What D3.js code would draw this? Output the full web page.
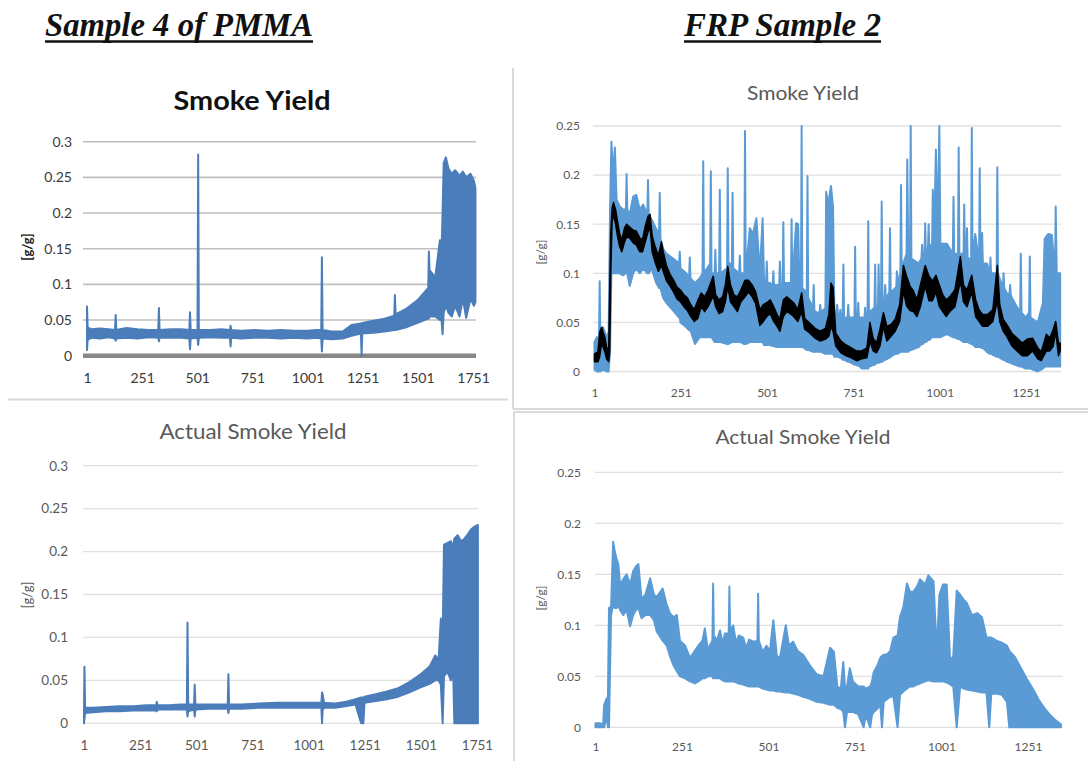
<!DOCTYPE html>
<html><head><meta charset="utf-8">
<script src="https://cdn.jsdelivr.net/npm/d3@7"></script>
<style>body{margin:0;background:#fff}svg{display:block}</style>
</head><body>
<svg id="c" width="1088" height="761"></svg>
<script>
// ---------------- DATA ----------------
const xTicksPMMA = [1, 251, 501, 751, 1001, 1251, 1501, 1751];
const xTicksFRP = [1, 251, 501, 751, 1001, 1251];
const yTicksPMMA = [0, 0.05, 0.1, 0.15, 0.2, 0.25, 0.3];
const yLabelsPMMA = ["0", "0.05", "0.1", "0.15", "0.2", "0.25", "0.3"];
const yTicksFRP = [0, 0.05, 0.1, 0.15, 0.2, 0.25];
const yLabelsFRP = ["0", "0.05", "0.1", "0.15", "0.2", "0.25"];

// each entry: [time index, lower envelope, upper envelope]
const pmmaSmoke = [
[1,0.008,0.069],[4,0.022,0.040],[20,0.025,0.037],[60,0.024,0.038],[100,0.026,0.037],
[128,0.024,0.036],[131,0.021,0.057],[134,0.024,0.036],[180,0.025,0.039],[230,0.024,0.037],
[280,0.026,0.036],[324,0.025,0.036],[327,0.020,0.067],[330,0.025,0.036],[380,0.025,0.037],
[430,0.025,0.037],[465,0.024,0.036],[468,0.009,0.061],[471,0.024,0.036],[502,0.025,0.036],
[505,0.015,0.282],[508,0.025,0.036],[560,0.026,0.036],[610,0.025,0.037],[649,0.025,0.036],
[652,0.013,0.042],[655,0.025,0.036],[700,0.024,0.035],[760,0.025,0.036],[820,0.025,0.035],
[880,0.024,0.036],[940,0.025,0.035],[1000,0.024,0.035],[1040,0.025,0.036],[1063,0.024,0.036],
[1066,0.006,0.138],[1069,0.024,0.036],[1110,0.023,0.034],[1160,0.024,0.034],[1200,0.028,0.043],
[1243,0.031,0.045],[1246,0.0,0.045],[1249,0.031,0.046],[1300,0.032,0.049],[1350,0.034,0.052],
[1394,0.036,0.056],[1397,0.036,0.085],[1400,0.036,0.058],[1450,0.040,0.066],[1500,0.046,0.078],
[1548,0.052,0.095],[1551,0.052,0.146],[1554,0.055,0.12],[1580,0.055,0.11],[1601,0.05,0.162],
[1606,0.06,0.12],[1613,0.03,0.2],[1618,0.06,0.27],[1628,0.07,0.278],[1640,0.06,0.262],
[1655,0.055,0.255],[1670,0.07,0.26],[1690,0.055,0.252],[1705,0.08,0.258],[1720,0.053,0.25],
[1740,0.08,0.255],[1755,0.07,0.245],[1762,0.075,0.235]
];

const pmmaActual = [
[1,0.0,0.013],[3,0.005,0.066],[6,0.012,0.018],[40,0.013,0.018],[100,0.014,0.019],
[160,0.014,0.020],[220,0.015,0.020],[280,0.015,0.021],[322,0.015,0.021],[325,0.014,0.025],
[328,0.016,0.021],[380,0.016,0.021],[430,0.016,0.022],[459,0.016,0.022],[462,0.008,0.117],
[465,0.014,0.022],[491,0.016,0.022],[494,0.008,0.045],[497,0.016,0.022],[560,0.017,0.022],
[641,0.017,0.022],[644,0.012,0.057],[647,0.017,0.022],[700,0.017,0.022],[780,0.018,0.023],
[860,0.018,0.024],[940,0.018,0.024],[1000,0.018,0.024],[1058,0.018,0.024],[1061,0.0,0.036],
[1064,0.016,0.033],[1070,0.018,0.024],[1120,0.018,0.023],[1170,0.020,0.025],[1210,0.022,0.028],
[1235,0.0,0.03],[1245,0.0,0.03],[1250,0.024,0.031],[1300,0.026,0.034],[1350,0.028,0.037],
[1400,0.031,0.041],[1450,0.036,0.048],[1500,0.042,0.057],[1540,0.046,0.066],[1565,0.05,0.079],
[1580,0.05,0.074],[1590,0.045,0.122],[1598,0.0,0.1],[1604,0.055,0.208],[1620,0.06,0.21],
[1635,0.05,0.212],[1645,0.06,0.205],[1650,0.0,0.215],[1665,0.0,0.219],[1680,0.0,0.212],
[1695,0.0,0.215],[1710,0.0,0.22],[1725,0.0,0.226],[1740,0.0,0.229],[1755,0.0,0.231]
];

const frpSmoke = [
[1,0.002,0.03],[8,0.0,0.035],[14,0.0,0.03],[16,0.0,0.092],[18,0.0,0.03],[26,0.002,0.045],
[36,0.0,0.035],[42,0.0,0.04],[46,0.02,0.165],[50,0.1,0.234],[55,0.1,0.2],[60,0.1,0.228],
[65,0.1,0.175],[74,0.1,0.168],[84,0.098,0.165],[92,0.1,0.165],[94,0.1,0.201],[96,0.1,0.165],
[103,0.087,0.16],[113,0.1,0.178],[122,0.105,0.18],[132,0.1,0.165],[142,0.105,0.17],[154,0.1,0.16],
[156,0.1,0.195],[158,0.1,0.16],[166,0.105,0.155],[180,0.09,0.145],[188,0.085,0.14],[190,0.085,0.182],
[192,0.085,0.135],[200,0.075,0.125],[209,0.07,0.12],[229,0.062,0.115],[246,0.055,0.11],[248,0.055,0.122],
[250,0.05,0.105],[267,0.045,0.1],[275,0.042,0.095],[277,0.042,0.116],[279,0.042,0.095],[292,0.028,0.09],
[306,0.035,0.095],[314,0.035,0.1],[316,0.035,0.214],[318,0.035,0.1],[336,0.035,0.11],[338,0.035,0.204],
[340,0.035,0.1],[349,0.03,0.1],[351,0.03,0.124],[353,0.03,0.1],[362,0.03,0.1],[364,0.03,0.185],
[366,0.03,0.1],[385,0.028,0.105],[387,0.028,0.207],[389,0.028,0.11],[399,0.03,0.11],[401,0.03,0.182],
[403,0.03,0.105],[420,0.03,0.1],[422,0.03,0.118],[424,0.03,0.1],[435,0.028,0.1],[437,0.028,0.245],
[439,0.028,0.1],[451,0.03,0.146],[460,0.03,0.14],[470,0.03,0.156],[480,0.03,0.1],[488,0.03,0.156],
[492,0.027,0.095],[498,0.027,0.09],[500,0.027,0.112],[502,0.027,0.09],[509,0.027,0.09],[517,0.026,0.088],
[519,0.026,0.102],[521,0.026,0.088],[528,0.025,0.088],[536,0.025,0.088],[538,0.025,0.112],[540,0.025,0.088],
[546,0.025,0.09],[548,0.025,0.152],[550,0.025,0.09],[570,0.025,0.09],[572,0.025,0.155],[574,0.025,0.09],
[585,0.025,0.151],[591,0.025,0.15],[595,0.025,0.085],[599,0.025,0.085],[601,0.025,0.25],[603,0.025,0.085],
[616,0.022,0.08],[618,0.022,0.199],[620,0.022,0.075],[634,0.02,0.065],[636,0.02,0.088],[638,0.02,0.062],
[645,0.02,0.06],[653,0.02,0.06],[655,0.02,0.068],[657,0.02,0.06],[670,0.018,0.065],[672,0.018,0.183],
[678,0.018,0.17],[686,0.018,0.189],[692,0.018,0.168],[696,0.015,0.06],[702,0.015,0.06],[704,0.015,0.068],
[706,0.015,0.058],[711,0.014,0.055],[713,0.014,0.063],[715,0.014,0.055],[720,0.012,0.06],[722,0.012,0.109],
[724,0.012,0.055],[734,0.01,0.055],[736,0.01,0.068],[738,0.01,0.055],[754,0.007,0.055],[756,0.007,0.127],
[758,0.007,0.055],[763,0.006,0.055],[765,0.006,0.07],[767,0.006,0.055],[775,0.003,0.055],[783,0.003,0.055],
[785,0.003,0.065],[787,0.003,0.055],[792,0.003,0.06],[794,0.003,0.153],[796,0.005,0.06],[812,0.007,0.065],
[814,0.007,0.109],[816,0.008,0.065],[822,0.009,0.065],[824,0.009,0.109],[826,0.009,0.068],[831,0.01,0.07],
[833,0.01,0.173],[835,0.01,0.07],[841,0.012,0.075],[843,0.012,0.088],[845,0.012,0.075],[855,0.014,0.08],
[857,0.014,0.146],[859,0.015,0.08],[872,0.018,0.085],[875,0.018,0.085],[877,0.018,0.102],[879,0.018,0.09],
[887,0.02,0.1],[889,0.02,0.19],[891,0.02,0.105],[905,0.02,0.12],[907,0.02,0.216],[910,0.02,0.12],
[915,0.022,0.12],[917,0.022,0.25],[919,0.022,0.115],[940,0.025,0.11],[948,0.028,0.115],[950,0.028,0.129],
[952,0.028,0.115],[957,0.03,0.12],[959,0.03,0.151],[961,0.03,0.12],[967,0.032,0.125],[969,0.032,0.15],
[971,0.032,0.125],[979,0.035,0.13],[981,0.035,0.185],[985,0.035,0.14],[990,0.035,0.226],[995,0.035,0.14],
[1000,0.035,0.25],[1003,0.035,0.13],[1022,0.038,0.13],[1039,0.035,0.12],[1041,0.035,0.178],[1043,0.035,0.12],
[1054,0.033,0.12],[1056,0.033,0.228],[1058,0.033,0.12],[1070,0.03,0.12],[1072,0.03,0.17],[1074,0.03,0.12],
[1078,0.03,0.115],[1080,0.03,0.146],[1082,0.03,0.115],[1092,0.028,0.115],[1094,0.028,0.248],[1096,0.028,0.115],
[1104,0.025,0.14],[1115,0.025,0.11],[1117,0.025,0.207],[1119,0.025,0.11],[1122,0.024,0.11],[1124,0.024,0.141],
[1126,0.024,0.11],[1138,0.02,0.11],[1146,0.018,0.1],[1148,0.018,0.116],[1150,0.018,0.1],[1166,0.015,0.1],
[1168,0.015,0.208],[1170,0.015,0.1],[1184,0.012,0.085],[1186,0.012,0.1],[1188,0.012,0.085],[1195,0.01,0.08],
[1203,0.009,0.078],[1205,0.009,0.088],[1207,0.009,0.078],[1210,0.008,0.075],[1234,0.005,0.06],[1236,0.005,0.12],
[1238,0.005,0.06],[1250,0.003,0.055],[1260,0.003,0.06],[1262,0.003,0.117],[1264,0.003,0.055],[1285,0.0,0.05],
[1300,0.003,0.07],[1305,0.005,0.135],[1315,0.005,0.14],[1326,0.005,0.139],[1335,0.005,0.1],[1337,0.005,0.168],
[1340,0.005,0.1],[1350,0.005,0.1]
];

const frpSmokeAvg = [
[1,0.01,0.018],[11,0.01,0.02],[16,0.015,0.04],[22,0.03,0.045],[26,0.025,0.04],[31,0.02,0.035],
[36,0.013,0.025],[42,0.01,0.02],[45,0.02,0.08],[48,0.1,0.14],[52,0.152,0.166],[56,0.16,0.172],
[62,0.15,0.165],[68,0.137,0.152],[74,0.127,0.14],[80,0.122,0.134],[88,0.132,0.146],[94,0.137,0.15],
[103,0.136,0.147],[113,0.131,0.144],[122,0.129,0.143],[132,0.122,0.136],[140,0.122,0.134],[148,0.132,0.148],
[156,0.142,0.158],[162,0.147,0.16],[168,0.122,0.138],[176,0.112,0.128],[186,0.102,0.118],[195,0.108,0.132],
[200,0.102,0.122],[210,0.092,0.107],[220,0.087,0.099],[230,0.081,0.093],[240,0.074,0.086],[250,0.071,0.083],
[260,0.066,0.078],[270,0.062,0.075],[280,0.056,0.068],[290,0.051,0.063],[300,0.054,0.072],[310,0.066,0.08],
[320,0.061,0.076],[330,0.066,0.083],[345,0.077,0.097],[352,0.066,0.078],[362,0.059,0.073],[372,0.061,0.076],
[380,0.071,0.088],[387,0.087,0.107],[395,0.071,0.088],[405,0.066,0.078],[415,0.061,0.076],[425,0.071,0.083],
[437,0.076,0.093],[447,0.081,0.093],[458,0.076,0.088],[468,0.069,0.081],[480,0.047,0.063],[490,0.051,0.068],
[500,0.056,0.07],[510,0.059,0.073],[520,0.051,0.066],[530,0.046,0.058],[538,0.041,0.053],[548,0.056,0.073],
[558,0.061,0.076],[568,0.059,0.073],[578,0.056,0.07],[590,0.051,0.063],[601,0.061,0.08],[610,0.043,0.054],
[625,0.039,0.049],[640,0.034,0.044],[655,0.031,0.041],[670,0.033,0.044],[680,0.036,0.058],[686,0.046,0.09],
[692,0.041,0.086],[700,0.026,0.039],[715,0.019,0.031],[730,0.016,0.027],[745,0.014,0.024],[760,0.011,0.021],
[775,0.013,0.021],[790,0.014,0.024],[799,0.031,0.05],[808,0.021,0.034],[818,0.019,0.029],[828,0.026,0.043],
[838,0.046,0.06],[848,0.031,0.046],[860,0.036,0.048],[872,0.041,0.053],[885,0.051,0.068],[896,0.082,0.108],
[905,0.067,0.097],[915,0.062,0.087],[925,0.061,0.082],[935,0.056,0.073],[945,0.066,0.088],[959,0.087,0.108],
[970,0.072,0.097],[980,0.072,0.092],[990,0.081,0.098],[1000,0.066,0.088],[1010,0.061,0.078],[1020,0.056,0.073],
[1030,0.061,0.076],[1045,0.066,0.083],[1061,0.092,0.117],[1070,0.071,0.088],[1080,0.066,0.083],[1094,0.081,0.098],
[1105,0.056,0.073],[1115,0.051,0.063],[1125,0.046,0.058],[1140,0.046,0.058],[1155,0.051,0.063],[1168,0.072,0.108],
[1175,0.051,0.068],[1185,0.041,0.053],[1195,0.036,0.048],[1210,0.026,0.039],[1225,0.021,0.034],[1240,0.016,0.029],
[1255,0.016,0.033],[1270,0.021,0.034],[1285,0.013,0.024],[1295,0.011,0.02],[1310,0.021,0.038],[1320,0.021,0.034],
[1330,0.026,0.043],[1337,0.041,0.051],[1345,0.016,0.029],[1350,0.021,0.029]
];

const frpActual = [
[1,0.0,0.004],[12,0.0,0.004],[23,0.0,0.003],[26,0.0,0.022],[33,0.01,0.028],[37,0.0,0.03],
[40,0.0,0.117],[46,0.11,0.118],[52,0.12,0.182],[57,0.117,0.172],[62,0.117,0.165],[67,0.12,0.16],
[72,0.115,0.14],[81,0.11,0.145],[91,0.115,0.15],[101,0.099,0.14],[110,0.11,0.153],[118,0.115,0.158],
[125,0.117,0.16],[134,0.107,0.126],[145,0.11,0.13],[159,0.11,0.146],[170,0.105,0.13],[178,0.094,0.128],
[195,0.085,0.136],[207,0.08,0.12],[216,0.07,0.112],[226,0.061,0.108],[236,0.055,0.11],[245,0.05,0.085],
[260,0.048,0.08],[274,0.045,0.068],[288,0.043,0.075],[298,0.045,0.08],[310,0.048,0.085],[317,0.048,0.097],
[326,0.05,0.075],[331,0.05,0.08],[339,0.05,0.085],[341,0.048,0.141],[343,0.048,0.09],[352,0.048,0.085],
[361,0.048,0.095],[368,0.046,0.082],[375,0.045,0.092],[386,0.045,0.092],[388,0.045,0.138],[390,0.045,0.095],
[399,0.045,0.1],[407,0.044,0.083],[415,0.043,0.09],[428,0.042,0.088],[436,0.041,0.078],[445,0.04,0.086],
[457,0.04,0.084],[469,0.04,0.085],[471,0.04,0.131],[473,0.04,0.085],[484,0.038,0.074],[495,0.037,0.08],
[505,0.036,0.075],[515,0.036,0.105],[525,0.035,0.07],[534,0.035,0.068],[551,0.034,0.1],[560,0.034,0.08],
[572,0.033,0.084],[585,0.032,0.075],[601,0.03,0.071],[620,0.028,0.061],[640,0.025,0.052],[660,0.024,0.05],
[679,0.022,0.078],[690,0.022,0.074],[700,0.019,0.04],[710,0.018,0.038],[717,0.015,0.064],[722,0.0,0.04],
[728,0.015,0.04],[736,0.015,0.058],[745,0.015,0.045],[760,0.013,0.04],[776,0.0,0.04],[782,0.012,0.038],
[795,0.0,0.04],[800,0.012,0.045],[805,0.015,0.054],[815,0.018,0.06],[824,0.022,0.068],[829,0.0,0.07],
[834,0.025,0.071],[845,0.028,0.072],[853,0.03,0.075],[862,0.03,0.088],[874,0.0,0.09],[881,0.032,0.108],
[891,0.035,0.118],[901,0.038,0.141],[910,0.04,0.133],[920,0.04,0.133],[930,0.042,0.138],[939,0.043,0.145],
[954,0.045,0.14],[963,0.046,0.149],[978,0.045,0.143],[987,0.045,0.075],[995,0.045,0.13],[1005,0.045,0.14],
[1016,0.044,0.14],[1026,0.042,0.065],[1035,0.04,0.07],[1045,0.0,0.134],[1055,0.04,0.13],[1065,0.038,0.125],
[1074,0.037,0.122],[1089,0.036,0.11],[1104,0.035,0.112],[1118,0.034,0.108],[1131,0.034,0.088],[1139,0.0,0.088],
[1145,0.033,0.088],[1160,0.033,0.085],[1175,0.032,0.083],[1190,0.025,0.08],[1197,0.0,0.075],[1213,0.0,0.069],
[1234,0.0,0.056],[1250,0.0,0.046],[1266,0.0,0.037],[1282,0.0,0.027],[1298,0.0,0.019],[1315,0.0,0.012],
[1330,0.0,0.007],[1346,0.0,0.003]
];

// ---------------- DRAW ----------------
const svg = d3.select("#c");
const FONT = "Lato, 'Open Sans', sans-serif";

// panel borders
const borders = svg.append("g").attr("stroke", "#d9d9d9").attr("stroke-width", 2).attr("fill", "none");
borders.append("line").attr("x1", 8).attr("x2", 508).attr("y1", 399.5).attr("y2", 399.5);
borders.append("line").attr("x1", 513).attr("x2", 513).attr("y1", 68).attr("y2", 409);
borders.append("line").attr("x1", 513).attr("x2", 1088).attr("y1", 409).attr("y2", 409);
borders.append("line").attr("x1", 514).attr("x2", 1088).attr("y1", 412).attr("y2", 412);
borders.append("line").attr("x1", 514).attr("x2", 514).attr("y1", 412).attr("y2", 761);

// headings
function heading(txt, x0, x1) {
  svg.append("text").attr("x", x0).attr("y", 36)
    .attr("font-family", "'Liberation Serif', 'DejaVu Serif', serif")
    .attr("font-weight", "bold").attr("font-style", "italic").attr("font-size", 34)
    .attr("textLength", x1 - x0).attr("lengthAdjust", "spacingAndGlyphs")
    .attr("fill", "#111").text(txt);
  svg.append("line").attr("x1", x0).attr("x2", x1).attr("y1", 41.5).attr("y2", 41.5)
    .attr("stroke", "#111").attr("stroke-width", 2.5);
}
heading("Sample 4 of PMMA", 45, 313);
heading("FRP Sample 2", 684, 881);

function panel(o) {
  const g = svg.append("g");
  const x = d3.scaleLinear().domain([1, o.xRef]).range([o.x0, o.x1]);
  const y = d3.scaleLinear().domain([0, o.yMax]).range([o.y0, o.y1]);

  // title
  g.append("text").attr("x", o.tx).attr("y", o.ty).attr("text-anchor", "middle")
    .attr("font-family", FONT).attr("font-size", o.tSize).attr("font-weight", o.tWeight)
    .attr("fill", o.tColor).attr("textLength", o.tLen).attr("lengthAdjust", "spacingAndGlyphs")
    .text(o.title);

  // gridlines
  g.append("g").selectAll("line").data(o.yTicks).join("line")
    .attr("x1", o.gx0).attr("x2", o.gx1)
    .attr("y1", d => y(d)).attr("y2", d => y(d))
    .attr("stroke", o.gridColor).attr("stroke-width", o.gridW);

  // y axis labels
  const ya = g.append("g").attr("transform", `translate(${o.yLabX},0)`)
    .call(d3.axisLeft(y).tickValues(o.yTicks).tickFormat((d, i) => o.yLabels[i]).tickSize(0).tickPadding(0));
  ya.select(".domain").remove();
  ya.selectAll("text").attr("font-family", FONT).attr("font-size", o.tickSize).attr("fill", o.tickColor);

  // x axis labels
  const xa = g.append("g").attr("transform", `translate(0,${o.xLabY})`)
    .call(d3.axisBottom(x).tickValues(o.xTicks).tickSize(0).tickPadding(0).tickFormat(d3.format("d")));
  xa.select(".domain").remove();
  xa.selectAll("text").attr("dy", "0.35em").attr("font-family", FONT).attr("font-size", o.tickSize).attr("fill", o.tickColor);

  // y axis title
  g.append("text").attr("transform", `translate(${o.ytX},${o.ytY}) rotate(-90)`)
    .attr("text-anchor", "middle").attr("dy", "0.35em")
    .attr("font-family", FONT).attr("font-size", o.ytSize).attr("font-weight", o.ytWeight)
    .attr("fill", o.ytColor).text("[g/g]");

  if (o.baseline) {
    g.append("line").attr("x1", o.gx0).attr("x2", o.gx1).attr("y1", y(0)).attr("y2", y(0))
      .attr("stroke", "#888").attr("stroke-width", 4.5);
  }

  const area = d3.area().x(d => x(d[0])).y0(d => y(d[1])).y1(d => y(d[2]));
  o.series.forEach(s => {
    g.append("path").datum(s.data).attr("d", area)
      .attr("fill", s.color).attr("stroke", s.color).attr("stroke-width", s.w)
      .attr("stroke-linejoin", "round");
  });
}

// Top-left: PMMA Smoke Yield
panel({
  xRef: 1751, x0: 87, x1: 473, yMax: 0.3, y0: 355.7, y1: 141.7,
  gx0: 83, gx1: 476, gridColor: "#bfbfbf", gridW: 1.6, baseline: true,
  yTicks: yTicksPMMA, yLabels: yLabelsPMMA, xTicks: xTicksPMMA,
  yLabX: 72, xLabY: 378, tickSize: 14, tickColor: "#3a3a3a",
  title: "Smoke Yield", tx: 252, ty: 110, tSize: 26, tWeight: "bold", tColor: "#111", tLen: 157,
  ytX: 27, ytY: 247, ytSize: 13, ytWeight: "bold", ytColor: "#222",
  series: [{data: pmmaSmoke, color: "#4a7dba", w: 2}]
});

// Bottom-left: PMMA Actual Smoke Yield
panel({
  xRef: 1751, x0: 84, x1: 477, yMax: 0.3, y0: 723.3, y1: 465.7,
  gx0: 83, gx1: 478, gridColor: "#e0e0e0", gridW: 1.3, baseline: false,
  yTicks: yTicksPMMA, yLabels: yLabelsPMMA, xTicks: xTicksPMMA,
  yLabX: 68, xLabY: 745, tickSize: 13.5, tickColor: "#595959",
  title: "Actual Smoke Yield", tx: 253, ty: 439, tSize: 21, tWeight: "normal", tColor: "#595959", tLen: 187,
  ytX: 27, ytY: 595, ytSize: 13, ytWeight: "normal", ytColor: "#595959",
  series: [{data: pmmaActual, color: "#4a7dba", w: 2}]
});

// Top-right: FRP Smoke Yield
panel({
  xRef: 1251, x0: 594.5, x1: 1026, yMax: 0.25, y0: 371.5, y1: 126,
  gx0: 593, gx1: 1061, gridColor: "#e0e0e0", gridW: 1.3, baseline: false,
  yTicks: yTicksFRP, yLabels: yLabelsFRP, xTicks: xTicksFRP,
  yLabX: 580, xLabY: 393, tickSize: 12, tickColor: "#595959",
  title: "Smoke Yield", tx: 803, ty: 100, tSize: 18.5, tWeight: "normal", tColor: "#595959", tLen: 112,
  ytX: 541, ytY: 252, ytSize: 12, ytWeight: "normal", ytColor: "#595959",
  series: [{data: frpSmoke, color: "#5b9bd5", w: 2}, {data: frpSmokeAvg, color: "#000", w: 1.5}]
});

// Bottom-right: FRP Actual Smoke Yield
panel({
  xRef: 1251, x0: 595.5, x1: 1028, yMax: 0.25, y0: 727.3, y1: 472.3,
  gx0: 595, gx1: 1063, gridColor: "#e0e0e0", gridW: 1.3, baseline: false,
  yTicks: yTicksFRP, yLabels: yLabelsFRP, xTicks: xTicksFRP,
  yLabX: 581, xLabY: 747, tickSize: 12, tickColor: "#595959",
  title: "Actual Smoke Yield", tx: 803, ty: 444, tSize: 20, tWeight: "normal", tColor: "#595959", tLen: 175,
  ytX: 541, ytY: 598, ytSize: 12, ytWeight: "normal", ytColor: "#595959",
  series: [{data: frpActual, color: "#5b9bd5", w: 2}]
});
</script>
</body></html>
